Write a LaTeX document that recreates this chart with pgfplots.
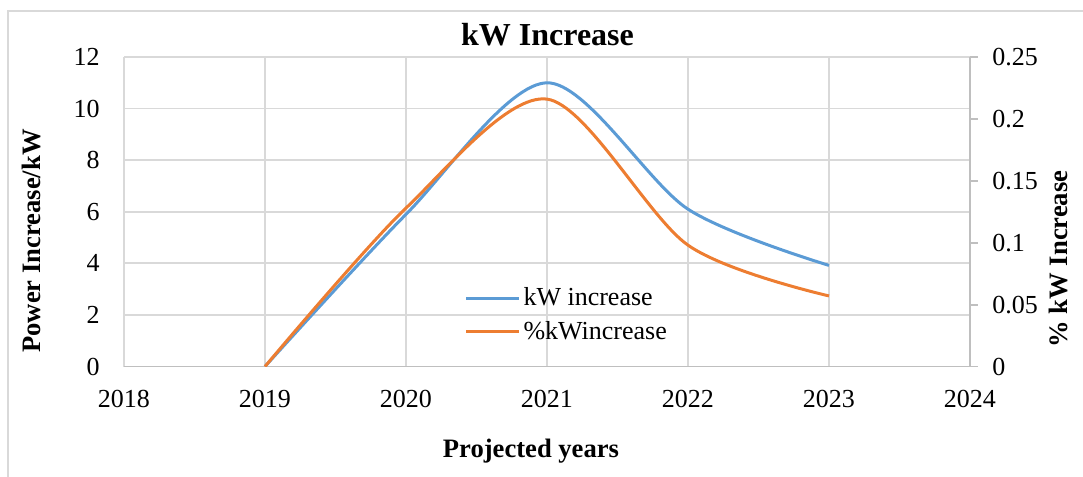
\documentclass[border=0pt]{standalone}
\usepackage{pgfplots}
\pgfplotsset{compat=1.18}
\usepackage{fontspec}
\setmainfont{Liberation Serif}
\definecolor{exblue}{RGB}{91,155,213}
\definecolor{exorange}{RGB}{237,125,49}
\definecolor{gridgray}{RGB}{217,217,217}
\definecolor{axgray}{RGB}{191,191,191}
\pgfplotstableread{
year kw
2019 0
2020 5.9
2021 11.0
2022 6.1
2023 3.92
}\kwdata
\pgfplotstableread{
year pct
2019 0
2020 0.128
2021 0.216
2022 0.098
2023 0.057
}\pctdata
\begin{document}
\begin{tikzpicture}
\begin{scope}[x=0.5pt,y=-0.5pt]
\useasboundingbox (0,0) rectangle (1083,477);
\draw[gridgray, line width=0.9pt] (8,480) -- (8,11) -- (1090,11);
\end{scope}
\begin{axis}[
  at={(62pt,-183.25pt)}, anchor=south west,
  scale only axis, width=423pt, height=154.75pt,
  xmin=2018, xmax=2024, ymin=0, ymax=12,
  xtick={2018,2019,...,2024}, ytick={0,2,...,12},
  grid=major, major grid style={gridgray, line width=0.9pt},
  axis x line*=bottom, axis y line*=left,
  x axis line style={axgray, line width=0.9pt, -},
  y axis line style={draw=none},
  major tick length=0pt,
  tick style={draw=none},
  /pgf/number format/assume math mode=true,
  /pgf/number format/1000 sep={},
  ticklabel style={font=\fontsize{13}{15}\selectfont, inner sep=0pt},
  yticklabel style={anchor=east, xshift=-12pt},
  xticklabel style={anchor=north, yshift=-11.75pt},
  legend style={draw=none, fill=none, inner sep=0pt, outer sep=0pt,
    at={(axis description cs:0.4025,0.2545)}, anchor=north west,
    font=\fontsize{13}{15}\selectfont, nodes={inner sep=0pt}, row sep=6.3pt, column sep=1.5pt},
  legend cell align=left,
  legend image code/.code={\draw[#1, line width=1.5pt] (0pt,0pt) -- (26.5pt,0pt);},
]
\addplot[exblue, line width=1.5pt, smooth, tension=0.5] table[x=year, y=kw] {\kwdata};
\addlegendentry{kW increase}
\addlegendimage{exorange, line width=1.5pt}
\addlegendentry{\%kWincrease}
\end{axis}
\begin{axis}[
  at={(62pt,-183.25pt)}, anchor=south west,
  scale only axis, width=423pt, height=154.75pt,
  xmin=2018, xmax=2024, ymin=0, ymax=0.25,
  axis x line=none, axis y line*=right,
  y axis line style={axgray, line width=0.9pt, -},
  ytick={0,0.05,0.1,0.15,0.2,0.25},
  yticklabels={0,0.05,0.1,0.15,0.2,0.25},
  tick align=outside, major tick length=4pt,
  ytick style={axgray, line width=0.9pt},
  ticklabel style={font=\fontsize{13}{15}\selectfont, inner sep=0pt},
  yticklabel style={anchor=west, xshift=7pt},
]
\addplot[exorange, line width=1.5pt, smooth, tension=0.5] table[x=year, y=pct] {\pctdata};
\end{axis}
\begin{scope}[x=0.5pt,y=-0.5pt]
\node[anchor=base, font=\bfseries\fontsize{16}{18}\selectfont] at (547.5,45) {kW Increase};
\node[anchor=base, font=\bfseries\fontsize{13.3}{15}\selectfont] at (531,457) {Projected years};
\node[anchor=base, rotate=90, font=\bfseries\fontsize{13.3}{15}\selectfont] at (40,241) {Power Increase/kW};
\node[anchor=base, rotate=90, font=\bfseries\fontsize{13.3}{15}\selectfont] at (1067,259) {\% kW Increase};
\end{scope}
\end{tikzpicture}
\end{document}
